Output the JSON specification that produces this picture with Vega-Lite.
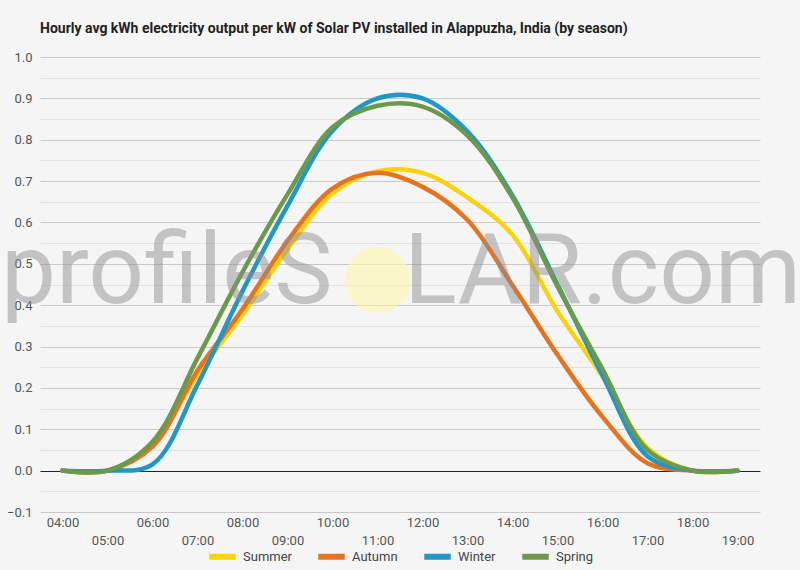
{
  "$schema": "https://vega.github.io/schema/vega-lite/v6.json",
  "width": 720,
  "height": 455,
  "autosize": {"type": "none"},
  "padding": {"left": 40, "top": 57, "right": 40, "bottom": 58},
  "background": "#F5F5F5",
  "title": {
    "text": "Hourly avg kWh electricity output per kW of Solar PV installed in Alappuzha, India (by season)",
    "anchor": "start",
    "frame": "group",
    "fontSize": 14,
    "fontWeight": "bold",
    "font": "Roboto",
    "color": "#222222",
    "offset": 15
  },
  "datasets": {
    "solar": [
      {"hour": "04:00", "season": "Summer", "value": 0},
      {"hour": "05:00", "season": "Summer", "value": 0},
      {"hour": "06:00", "season": "Summer", "value": 0.065},
      {"hour": "07:00", "season": "Summer", "value": 0.232},
      {"hour": "08:00", "season": "Summer", "value": 0.377},
      {"hour": "09:00", "season": "Summer", "value": 0.535},
      {"hour": "10:00", "season": "Summer", "value": 0.67},
      {"hour": "11:00", "season": "Summer", "value": 0.724},
      {"hour": "12:00", "season": "Summer", "value": 0.72},
      {"hour": "13:00", "season": "Summer", "value": 0.66},
      {"hour": "14:00", "season": "Summer", "value": 0.57},
      {"hour": "15:00", "season": "Summer", "value": 0.385},
      {"hour": "16:00", "season": "Summer", "value": 0.228},
      {"hour": "17:00", "season": "Summer", "value": 0.055},
      {"hour": "18:00", "season": "Summer", "value": 0},
      {"hour": "19:00", "season": "Summer", "value": 0},
      {"hour": "04:00", "season": "Autumn", "value": 0},
      {"hour": "05:00", "season": "Autumn", "value": 0},
      {"hour": "06:00", "season": "Autumn", "value": 0.058},
      {"hour": "07:00", "season": "Autumn", "value": 0.242},
      {"hour": "08:00", "season": "Autumn", "value": 0.39},
      {"hour": "09:00", "season": "Autumn", "value": 0.555},
      {"hour": "10:00", "season": "Autumn", "value": 0.682},
      {"hour": "11:00", "season": "Autumn", "value": 0.72},
      {"hour": "12:00", "season": "Autumn", "value": 0.686},
      {"hour": "13:00", "season": "Autumn", "value": 0.606},
      {"hour": "14:00", "season": "Autumn", "value": 0.448},
      {"hour": "15:00", "season": "Autumn", "value": 0.28},
      {"hour": "16:00", "season": "Autumn", "value": 0.13},
      {"hour": "17:00", "season": "Autumn", "value": 0.018},
      {"hour": "18:00", "season": "Autumn", "value": 0},
      {"hour": "19:00", "season": "Autumn", "value": 0},
      {"hour": "04:00", "season": "Winter", "value": 0},
      {"hour": "05:00", "season": "Winter", "value": 0},
      {"hour": "06:00", "season": "Winter", "value": 0.015},
      {"hour": "07:00", "season": "Winter", "value": 0.208},
      {"hour": "08:00", "season": "Winter", "value": 0.434},
      {"hour": "09:00", "season": "Winter", "value": 0.64},
      {"hour": "10:00", "season": "Winter", "value": 0.822},
      {"hour": "11:00", "season": "Winter", "value": 0.9},
      {"hour": "12:00", "season": "Winter", "value": 0.9},
      {"hour": "13:00", "season": "Winter", "value": 0.82},
      {"hour": "14:00", "season": "Winter", "value": 0.665},
      {"hour": "15:00", "season": "Winter", "value": 0.45},
      {"hour": "16:00", "season": "Winter", "value": 0.23},
      {"hour": "17:00", "season": "Winter", "value": 0.035},
      {"hour": "18:00", "season": "Winter", "value": 0},
      {"hour": "19:00", "season": "Winter", "value": 0},
      {"hour": "04:00", "season": "Spring", "value": 0},
      {"hour": "05:00", "season": "Spring", "value": 0},
      {"hour": "06:00", "season": "Spring", "value": 0.07},
      {"hour": "07:00", "season": "Spring", "value": 0.272},
      {"hour": "08:00", "season": "Spring", "value": 0.48},
      {"hour": "09:00", "season": "Spring", "value": 0.668},
      {"hour": "10:00", "season": "Spring", "value": 0.83},
      {"hour": "11:00", "season": "Spring", "value": 0.882},
      {"hour": "12:00", "season": "Spring", "value": 0.88},
      {"hour": "13:00", "season": "Spring", "value": 0.81},
      {"hour": "14:00", "season": "Spring", "value": 0.66},
      {"hour": "15:00", "season": "Spring", "value": 0.445},
      {"hour": "16:00", "season": "Spring", "value": 0.245},
      {"hour": "17:00", "season": "Spring", "value": 0.05},
      {"hour": "18:00", "season": "Spring", "value": 0},
      {"hour": "19:00", "season": "Spring", "value": 0}
    ],
    "markCircle": [
      {"hour": "11:00", "value": 0.461}
    ],
    "markTextLeft": [
      {"hour": "10:00", "value": 0.406, "label": "profileS"}
    ],
    "markTextRight": [
      {"hour": "16:00", "value": 0.406, "label": "LAR.com"}
    ]
  },
  "encoding": {
    "x": {
      "field": "hour",
      "type": "ordinal",
      "scale": {"type": "point", "padding": 0.5},
      "axis": {
        "title": null,
        "grid": false,
        "ticks": false,
        "domain": false,
        "labelAngle": 0,
        "labelFontSize": 13,
        "labelColor": "#555555",
        "labelPadding": 4,
        "labelBaseline": "top",
        "labelLineHeight": 18,
        "labelExpr": "(toNumber(slice(datum.value, 0, 2)) % 2 == 1) ? ['', datum.value] : datum.value"
      }
    },
    "y": {
      "field": "value",
      "type": "quantitative",
      "scale": {"domain": [-0.1, 1.0], "nice": false, "zero": false},
      "axis": {
        "title": null,
        "domain": false,
        "ticks": false,
        "values": [-0.1, -0.05, 0, 0.05, 0.1, 0.15, 0.2, 0.25, 0.3, 0.35, 0.4, 0.45, 0.5, 0.55, 0.6, 0.65, 0.7, 0.75, 0.8, 0.85, 0.9, 0.95, 1.0],
        "labelExpr": "abs(round(datum.value * 20)) % 2 == 1 ? '' : format(datum.value, '.1f')",
        "labelFontSize": 13,
        "labelColor": "#555555",
        "labelPadding": 8,
        "gridColor": {
          "condition": [
            {"test": "datum.value === 0", "value": "#222222"},
            {"test": "abs(round(datum.value * 20)) % 2 == 1", "value": "#E3E3E3"}
          ],
          "value": "#C9C9C9"
        },
        "gridWidth": 1
      }
    }
  },
  "layer": [
    {
      "data": {"name": "solar"},
      "mark": {"type": "line", "interpolate": "catmull-rom", "strokeWidth": 4.5, "strokeCap": "round"},
      "encoding": {
        "color": {
          "field": "season",
          "type": "nominal",
          "scale": {
            "domain": ["Summer", "Autumn", "Winter", "Spring"],
            "range": ["#FCD308", "#E8731F", "#2196C8", "#6C9A4D"]
          },
          "legend": {
            "title": null,
            "orient": "bottom",
            "direction": "horizontal",
            "symbolType": "stroke",
            "symbolStrokeWidth": 6,
            "symbolSize": 700,
            "labelFontSize": 13,
            "labelColor": "#444444",
            "columnPadding": 14,
            "offset": -7,
            "padding": 0
          }
        }
      }
    },
    {
      "data": {"name": "markCircle"},
      "mark": {"type": "point", "filled": true, "size": 4300, "color": "#FFF5A0", "opacity": 0.55, "strokeWidth": 0}
    },
    {
      "data": {"name": "markTextLeft"},
      "mark": {"type": "text", "font": "Roboto", "fontSize": 98, "align": "right", "baseline": "alphabetic", "color": "#8E8E8E", "opacity": 0.48},
      "encoding": {
        "text": {"field": "label", "type": "nominal"}
      }
    },
    {
      "data": {"name": "markTextRight"},
      "mark": {"type": "text", "font": "Roboto", "fontSize": 98, "align": "center", "baseline": "alphabetic", "color": "#8E8E8E", "opacity": 0.48},
      "encoding": {
        "text": {"field": "label", "type": "nominal"}
      }
    }
  ],
  "config": {
    "font": "Roboto",
    "view": {"stroke": null},
    "legend": {"layout": {"bottom": {"anchor": "middle"}}}
  }
}
